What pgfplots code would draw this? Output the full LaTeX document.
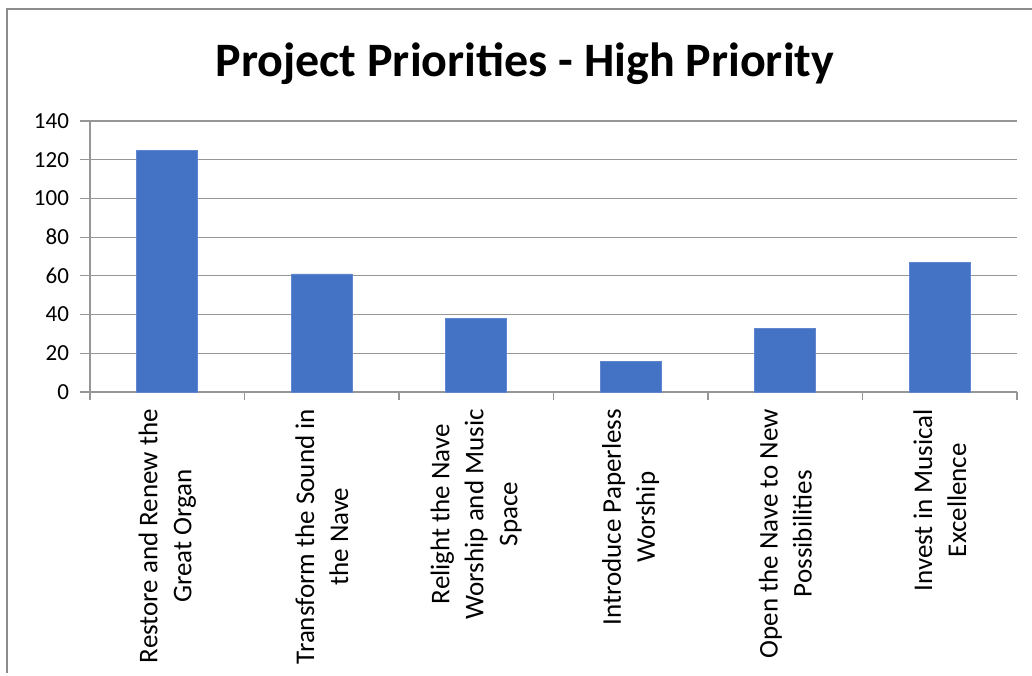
\documentclass[border=0pt]{standalone}
\usepackage{pgfplots}
\pgfplotsset{compat=1.18}
\usepackage{fontspec}
\setmainfont{Carlito}
\definecolor{barblue}{HTML}{4472C4}
\definecolor{gridgray}{HTML}{969696}
\definecolor{framegray}{HTML}{8C8C8C}
\begin{document}
\begin{tikzpicture}
\useasboundingbox (-45pt,-141.5pt) rectangle (471pt,196pt);
\draw[framegray, line width=0.6pt] (-41.5pt,-140.5pt) -- (-41.5pt,191.5pt) -- (471pt,191.5pt);
\begin{axis}[
  at={(0pt,0pt)}, anchor=south west,
  scale only axis,
  width=463.5pt, height=135.5pt,
  xmin=-0.5, xmax=5.5,
  ymin=0, ymax=140,
  ytick={0,20,...,140},
  xtick={0,1,2,3,4,5},
  xticklabels={{Restore and Renew the\\Great Organ},{Transform the Sound in\\the Nave},{Relight the Nave\\Worship and Music\\Space},{Introduce Paperless\\Worship},{Open the Nave to New\\Possibilities},{Invest in Musical\\Excellence}},
  minor xtick={-0.5,0.5,1.5,2.5,3.5,4.5,5.5},
  major x tick style={draw=none},
  minor x tick style={gridgray, line width=0.6pt},
  y tick style={gridgray, line width=0.6pt},
  tick align=outside,
  major tick length=5pt,
  minor tick length=4pt,
  tick pos=left,
  ymajorgrids,
  grid style={gridgray, line width=0.6pt},
  axis x line*=bottom,
  axis y line*=left,
  axis line style={gridgray, line width=0.6pt},
  /pgf/number format/assume math mode=true,
  yticklabel style={font=\fontsize{11.5}{13}\selectfont, xshift=-2pt},
  xticklabel style={font=\fontsize{13.5}{17}\selectfont, rotate=90, anchor=east, align=center, yshift=0pt},
  ybar, bar width=30.5pt,
  clip=false,
]
\addplot[fill=barblue, draw=barblue!85!white] coordinates {(0,125) (1,61) (2,38) (3,16) (4,33) (5,67)};
\end{axis}
\node[font=\bfseries\fontsize{24}{28}\selectfont] at (217.5pt,164pt) {Project Priorities - High Priority};
\end{tikzpicture}
\end{document}
